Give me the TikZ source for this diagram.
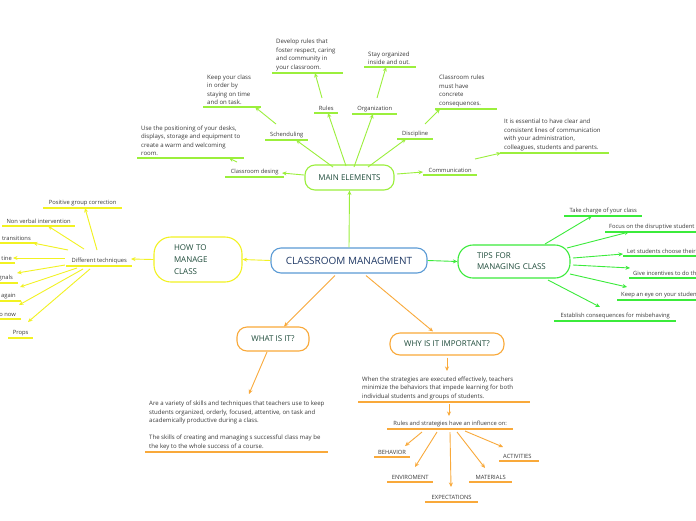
\documentclass[tikz,border=0pt]{standalone}
\usepackage{fontspec}
\setmainfont{Open Sans}
\usetikzlibrary{calc,arrows.meta}
\definecolor{cmblue}{HTML}{5B9BD5}
\definecolor{cmtext}{HTML}{1F3864}
\definecolor{ttxt}{HTML}{1E4B3A}
\definecolor{mecol}{HTML}{9BEF3C}
\definecolor{tipcol}{HTML}{3BEB3B}
\definecolor{hcol}{HTML}{F2F222}
\definecolor{ocol}{HTML}{F9A93A}
\definecolor{txt}{HTML}{3A3A3A}
\begin{document}
\begin{tikzpicture}[x=1pt,y=-1pt,
  box/.style={draw=#1, line width=1.1pt, rounded corners=10pt, fill=white, inner sep=0pt},
  ttl/.style={font=\fontsize{8}{12}\selectfont, text=ttxt},
  lab/.style={font=\fontsize{5.8}{8.5}\selectfont, text=txt, inner xsep=4pt, inner ysep=2pt, anchor=south west, align=left},
  mlab/.style={lab, font=\fontsize{6.05}{8.5}\selectfont},
  uline/.style={draw=#1, line width=1.5pt, -},
  ulc/.style={align=center, append after command={(\tikzlastnode.south west) edge[uline=#1] (\tikzlastnode.south east)}},
  ull/.style 2 args={append after command={(\tikzlastnode.south west) edge[uline=#1] ($(\tikzlastnode.south west)+(#2,0)$)}},
  ulr/.style 2 args={anchor=south east, align=right, inner xsep=5pt, append after command={(\tikzlastnode.south east) edge[uline=#1] ($(\tikzlastnode.south east)+(-#2,0)$)}},
  con/.style={draw=#1, line width=0.9pt, -{Stealth[length=4.5pt,width=4pt]}}
]
\useasboundingbox (0,0) rectangle (696,520);
\fill[white] (0,0) rectangle (696,520);

% ---------- main boxes
\node[box=cmblue, minimum width=156pt, minimum height=25pt, font=\fontsize{10}{12}\selectfont, text=cmtext] (cm) at (349,260.5) {CLASSROOM MANAGMENT};
\node[box=mecol, minimum width=89pt, minimum height=25pt, ttl] (me) at (349.5,177.5) {MAIN ELEMENTS};
\node[box=hcol, rounded corners=17pt, minimum height=45pt, inner xsep=20pt, text width=48pt, align=left, ttl] (how) at (198,259.5) {HOW TO\\MANAGE\\CLASS};
\node[box=tipcol, rounded corners=15pt, minimum height=33pt, inner xsep=19pt, text width=74pt, align=left, font=\fontsize{8}{11}\selectfont, text=ttxt] (tips) at (514,261.5) {TIPS FOR\\MANAGING CLASS};
\node[box=ocol, minimum width=72pt, minimum height=24pt, ttl] (what) at (273,339) {WHAT IS IT?};
\node[box=ocol, minimum width=114pt, minimum height=22pt, ttl] (why) at (447,344) {WHY IS IT IMPORTANT?};

\draw[con=mecol] (cm.north) -- (me.south);
\draw[con=hcol] (cm.west) -- (how.east);
\draw[con=tipcol] (cm.east) -- (tips.west);
\draw[con=ocol] ($(cm.south)+(-14,2)$) -- ($(what.north)+(11,0)$);
\draw[con=ocol] ($(cm.south)+(17,2)$) -- ($(why.north)+(-14,-1)$);

% ---------- main elements
\node[lab, ulc=mecol, minimum width=59pt] (cdes) at (225,177) {Classroom desing};
\node[lab, ulc=mecol, minimum width=43pt] (sched) at (265,140) {Schenduling};
\node[lab, ulc=mecol, minimum width=24pt] (rules) at (314,113) {Rules};
\node[lab, ulc=mecol, minimum width=45pt] (org) at (352,114) {Organization};
\node[lab, ulc=mecol, minimum width=36pt] (disc) at (397,139) {Discipline};
\node[lab, ulc=mecol, minimum width=54pt] (comm) at (423,175) {Communication};

\draw[con=mecol] ($(me)+(-45.5,-2.5)$) -- ($(cdes.south west)+(57,-4)$);
\draw[con=mecol] ($(me)+(-16.5,-10.5)$) -- ($(sched.south west)+(31,0)$);
\draw[con=mecol] ($(me)+(-3.5,-11.5)$) -- ($(rules.south west)+(14,0)$);
\draw[con=mecol] ($(me)+(4.5,-10.5)$) -- ($(org.south west)+(21,0)$);
\draw[con=mecol] ($(me)+(18.5,-10.5)$) -- ($(disc.south west)+(9,0)$);
\draw[con=mecol] ($(me)+(47.5,-3.5)$) -- ($(comm.south west)+(0,-3)$);

\node[mlab, ull={mecol}{107}] (gdes) at (137,158) {Use the positioning of your desks,\\displays, storage and equipment to\\create a warm and welcoming\\room.};
\node[mlab, ull={mecol}{58}] (gsched) at (203,107) {Keep your class\\in order by\\staying on time\\and on task.};
\node[mlab, ull={mecol}{71}] (grules) at (272,73) {Develop rules that\\foster respect, caring\\and community in\\your classroom.};
\node[mlab, ull={mecol}{52}] (gorg) at (364,67) {Stay organized\\inside and out.};
\node[mlab, ull={mecol}{62}] (gdisc) at (435,109) {Classroom rules\\must have\\concrete\\consequences.};
\node[mlab, ull={mecol}{109}] (gcomm) at (500,153) {It is essential to have clear and\\consistent lines of communication\\with your administration,\\colleagues, students and parents.};

\draw[con=mecol] ($(cdes.south west)+(12,-15)$) -- ($(gdes.south west)+(92,0)$);
\draw[con=mecol] ($(sched.south west)+(11,-16)$) -- ($(gsched.south west)+(52,0)$);
\draw[con=mecol] ($(rules.south west)+(8,-15)$) -- ($(grules.south west)+(43,0)$);
\draw[con=mecol] ($(org.south west)+(25,-16)$) -- ($(gorg.south west)+(22,0)$);
\draw[con=mecol] ($(disc.south west)+(28,-15)$) -- ($(gdisc.south west)+(5,0)$);
\draw[con=mecol] ($(comm.south west)+(52,-16)$) -- ($(gcomm.south west)+(1,0)$);

% ---------- how to manage class
\node[lab, ulc=hcol, minimum width=66pt] (dtech) at (66,266) {Different techniques};
\draw[con=hcol] (how.west) -- ($(dtech.south west)+(65,-7)$);

\node[lab, ulc=hcol, minimum width=79pt] (pgc) at (43,208) {Positive group correction};
\node[lab, ulc=hcol, minimum width=73pt] (nvi) at (2,226) {Non verbal intervention};
\node[lab, ulr={hcol}{60}] (tra) at (36,243) {transitions};
\node[lab, ulr={hcol}{40}, inner xsep=3pt] (tine) at (15,263) {tine};
\node[lab, ulr={hcol}{40}] (gnals) at (18,283) {gnals};
\node[lab, ulr={hcol}{40}] (again) at (21,301) {again};
\node[lab, ulr={hcol}{40}] (onow) at (21,319) {o now};
\node[lab, ulc=hcol, minimum width=25pt] (props) at (8,338) {Props};

\draw[con=hcol] ($(dtech.south west)+(31,-16)$) -- ($(pgc.south west)+(42,0)$);
\draw[con=hcol] ($(dtech.south west)+(18,-17)$) -- ($(nvi.south west)+(46,0)$);
\draw[con=hcol] ($(dtech.south west)+(2,-16)$) -- ($(tra.south east)+(-3,0)$);
\draw[con=hcol] ($(dtech.south west)+(-1,-8)$) -- ($(tine.south east)+(-2,-5)$);
\draw[con=hcol] ($(dtech.south west)+(-1,-1)$) -- ($(gnals.south east)+(-1,-10)$);
\draw[con=hcol] ($(dtech.south west)+(11,2)$) -- ($(again.south east)+(-1,-14)$);
\draw[con=hcol] ($(dtech.south west)+(17,3)$) -- ($(onow.south east)+(-2,-14)$);
\draw[con=hcol] ($(dtech.south west)+(24,3)$) -- ($(props.south west)+(20,-16)$);

% ---------- tips
\node[lab, ulc=tipcol, minimum width=78pt] (t1) at (564,216) {Take charge of your class};
\node[lab, ull={tipcol}{120}] (t2) at (605,232) {Focus on the disruptive student};
\node[lab, ull={tipcol}{100}] (t3) at (623,256) {Let students choose their};
\node[lab, ull={tipcol}{100}] (t4) at (629,278) {Give incentives to do th};
\node[lab, ull={tipcol}{100}] (t5) at (617,300) {Keep an eye on your studen};
\node[lab, ulc=tipcol, minimum width=122pt] (t6) at (554,321) {Establish consequences for misbehaving};

\draw[con=tipcol] ($(tips)+(31,-17.5)$) -- ($(t1.south west)+(28,0)$);
\draw[con=tipcol] ($(tips)+(53,-13.5)$) -- ($(t2.south west)+(24,0)$);
\draw[con=tipcol] ($(tips)+(59,-3.5)$) -- ($(t3.south west)+(0,-2)$);
\draw[con=tipcol] ($(tips)+(59,3.5)$) -- ($(t4.south west)+(1,-10)$);
\draw[con=tipcol] ($(tips)+(56,12.5)$) -- ($(t5.south west)+(10,-13)$);
\draw[con=tipcol] ($(tips)+(34,18.5)$) -- ($(t6.south west)+(46,-14)$);

% ---------- what is it
\node[mlab, ull={ocol}{183}] (gwhat) at (145,452) {Are a variety of skills and techniques that teachers use to keep\\students organized, orderly, focused, attentive, on task and\\academically productive during a class.\\[8.5pt]The skills of creating and managing s successful class may be\\the key to the whole success of a course.};
\draw[con=ocol] ($(what)+(-6,13)$) -- ($(gwhat.south west)+(104,-58)$);

% ---------- why is it important
\node[mlab, ull={ocol}{172}] (gwhy) at (358,402) {When the strategies are executed effectively, teachers\\minimize the behaviors that impede learning for both\\individual students and groups of students.};
\draw[con=ocol] ($(why.south)+(0,2)$) -- ($(gwhy.south west)+(89,-31)$);

\node[lab, ulc=ocol, minimum width=126pt] (rinf) at (387,429) {Rules and strategies have an influence on:};
\draw[con=ocol] ($(gwhy.south west)+(91,2)$) -- ($(rinf.south west)+(62,-13)$);

\node[lab, ulc=ocol, minimum width=32pt] (beh) at (374,457) {BEHAVIOR};
\node[lab, ulc=ocol, minimum width=46pt] (env) at (387,482) {ENVIROMENT};
\node[lab, ulc=ocol, minimum width=53pt] (exp) at (425,502) {EXPECTATIONS};
\node[lab, ulc=ocol, minimum width=43pt] (mat) at (469,482) {MATERIALS};
\node[lab, ull={ocol}{40}] (act) at (499,461) {ACTIVITIES};

\draw[con=ocol] ($(rinf.south west)+(35,3)$) -- ($(beh.south west)+(31,-11)$);
\draw[con=ocol] ($(rinf.south west)+(50,3)$) -- ($(env.south west)+(28,-15)$);
\draw[con=ocol] ($(rinf.south west)+(63,3)$) -- ($(exp.south west)+(26,-15)$);
\draw[con=ocol] ($(rinf.south west)+(70,3)$) -- ($(mat.south west)+(16,-14)$);
\draw[con=ocol] ($(rinf.south west)+(78,2)$) -- ($(act.south west)+(4,-14)$);
\end{tikzpicture}
\end{document}
